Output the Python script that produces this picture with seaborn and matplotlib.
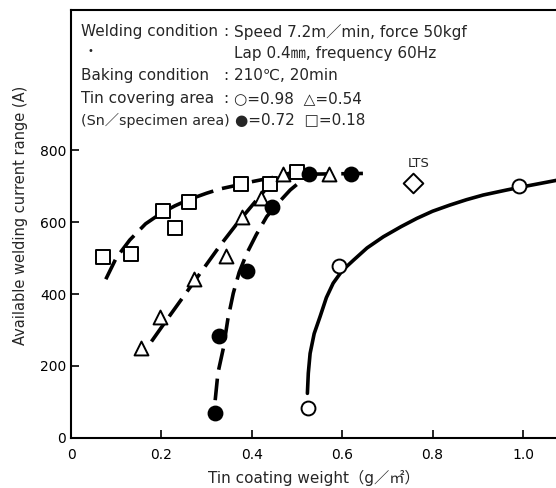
import numpy as np
import pandas as pd
import matplotlib
matplotlib.use("Agg")
import matplotlib.pyplot as plt
import seaborn as sns

# ---- data ----
sq_x = [0.071, 0.132, 0.203, 0.229, 0.26, 0.375, 0.44, 0.499]
sq_y = [504, 510, 631, 583, 655, 705, 706, 739]
tri_x = [0.155, 0.198, 0.273, 0.344, 0.378, 0.42, 0.468, 0.57]
tri_y = [249, 337, 441, 506, 615, 668, 733, 733]
fc_x = [0.319, 0.327, 0.389, 0.445, 0.527, 0.619]
fc_y = [69, 284, 465, 643, 733, 733]
oc_x = [0.525, 0.594, 0.992]
oc_y = [82, 478, 700]
lts_x = [0.756]
lts_y = [709]

# fitted curves
sq_cx = [0.077, 0.10, 0.13, 0.165, 0.2, 0.23, 0.26, 0.30, 0.33, 0.37, 0.40, 0.44, 0.47, 0.50]
sq_cy = [441, 500, 550, 595, 625, 645, 662, 680, 692, 703, 712, 722, 730, 742]
tri_cx = [0.178, 0.21, 0.25, 0.29, 0.33, 0.37, 0.40, 0.43, 0.46, 0.49, 0.51]
tri_cy = [268, 325, 395, 465, 535, 600, 645, 690, 718, 740, 748]
fc_cx = [0.319, 0.325, 0.337, 0.347, 0.359, 0.372, 0.389, 0.41, 0.433, 0.46, 0.485, 0.51, 0.53]
fc_cy = [105, 180, 249, 330, 402, 460, 513, 565, 615, 655, 689, 715, 733]
fcflat_cx = [0.53, 0.65]
fcflat_cy = [733, 735]
oc_cx = [0.523, 0.525, 0.529, 0.538, 0.551, 0.565, 0.58, 0.60, 0.625, 0.655, 0.691, 0.73, 0.765, 0.80, 0.838, 0.875, 0.912, 0.964, 1.0, 1.075]
oc_cy = [124, 180, 235, 290, 337, 390, 430, 465, 494, 528, 559, 587, 610, 630, 647, 662, 675, 689, 698, 716]

xticks = [0, 0.2, 0.4, 0.6, 0.8, 1.0]
xticklabels = ['0', '0.2', '0.4', '0.6', '0.8', '1.0']
yticks = [0, 200, 400, 600, 800]

plt.rcParams['figure.dpi'] = 100
sns.set_style("ticks")
plt.rcParams['font.family'] = ['DejaVu Sans', 'Noto Sans CJK JP']

fig = plt.figure(figsize=(5.56, 4.88), dpi=100)
ax = fig.add_axes([0.1277, 0.1025, 0.8723, 0.877])

dash = (6, 2.5)
for cxs, cys in [(sq_cx, sq_cy), (tri_cx, tri_cy), (fc_cx, fc_cy), (fcflat_cx, fcflat_cy)]:
    sns.lineplot(x=cxs, y=cys, ax=ax, color='black', lw=2.6, sort=False)
    ax.lines[-1].set_dashes(dash)
sns.lineplot(x=oc_cx, y=oc_cy, ax=ax, color='black', lw=2.6, sort=False)

kw = dict(s=100, linewidth=1.4, zorder=5, ax=ax, legend=False)
sns.scatterplot(x=sq_x, y=sq_y, marker='s', facecolor='white', edgecolor='black', **kw)
sns.scatterplot(x=tri_x, y=tri_y, marker='^', facecolor='white', edgecolor='black', **kw)
sns.scatterplot(x=fc_x, y=fc_y, marker='o', facecolor='black', edgecolor='black', **kw)
sns.scatterplot(x=oc_x, y=oc_y, marker='o', facecolor='white', edgecolor='black', **kw)
sns.scatterplot(x=lts_x, y=lts_y, marker='D', facecolor='white', edgecolor='black', **kw)
ax.text(0.77, 745, 'LTS', ha='center', va='bottom', fontsize=9.5)

ax.set_xlim(0, 1.073)
ax.set_ylim(0, 1189)
ax.set_xticks(xticks)
ax.set_xticklabels(xticklabels)
ax.set_yticks(yticks)
ax.tick_params(direction='in', length=6, width=1.2, labelsize=10, colors='black')
ax.tick_params(axis='x', pad=7)
for s in ['left', 'bottom', 'top']:
    ax.spines[s].set_linewidth(1.5)
    ax.spines[s].set_color('black')
ax.spines['right'].set_visible(False)
ax.spines['top'].set_visible(True)

ax.set_xlabel('Tin coating weight（g／㎡）', fontsize=11, labelpad=6)
ax.set_ylabel('Available welding current range (A)', fontsize=10.5)
ax.yaxis.set_label_coords(-0.088, 0.52)

# annotation block
fs = 11
lx, cx, vx = 0.0227, 0.336, 0.36
rows = [
    ('Welding condition', ':', 'Speed 7.2m／min, force 50kgf', 1128),
    ('', '', 'Lap 0.4㎜, frequency 60Hz', 1069),
    ('Baking condition', ':', '210℃, 20min', 1008),
    ('Tin covering area', ':', '○=0.98  △=0.54', 944),
]
for a, b, c, y in rows:
    ax.text(lx, y, a, fontsize=fs, va='center', ha='left')
    if b:
        ax.text(cx, y, b, fontsize=fs, va='center', ha='left')
    ax.text(vx, y, c, fontsize=fs, va='center', ha='left')
ax.text(lx, 883, '(Sn／specimen area)', fontsize=10.3, va='center', ha='left')
ax.text(0.362, 883, '●=0.72  □=0.18', fontsize=fs, va='center', ha='left')
ax.text(0.043, 1075, '•', fontsize=7, va='center', ha='center')

fig.savefig('out.png', dpi=100)
